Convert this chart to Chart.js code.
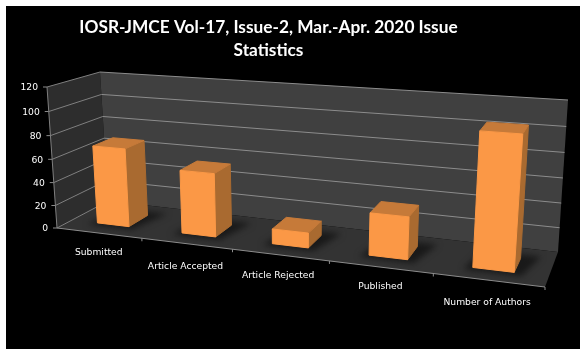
<!DOCTYPE html>
<html><head><meta charset="utf-8">
<style>html,body{margin:0;padding:0;background:#fff}canvas{display:block}</style>
<script src="https://cdn.jsdelivr.net/npm/chart.js@4"></script></head>
<body><div style="width:585px;height:353px"><canvas id="c" width="585" height="353"></canvas></div>
<script>
const categories = ['Submitted','Article Accepted','Article Rejected','Published','Number of Authors'];
const values = [68, 54, 12.5, 34.5, 104.5];
const titleLines = ['IOSR-JMCE Vol-17, Issue-2, Mar.-Apr. 2020 Issue','Statistics'];

// box corners of the 3D frame on the page
const FLB=[57,228],FLT=[47,87],BLB=[108,201],BLT=[100,72],BRB=[558,252],BRT=[568,100],FRB=[545,287],FRT=[557,121];
const labelNudgeX=[0,-1,-2,0,-1], labelNudgeY=[20,23,21,20,22];
const warpU=u=>u/(1.187-0.187*u), warpV=v=>v/(1.053-0.053*v);
const lerp=(a,b,t)=>a+(b-a)*t;
function P(u,v,w){
  const s=warpU(u),t=warpV(v),o=[];
  for(let i=0;i<2;i++){
    const fb=lerp(FLB[i],FRB[i],s),ft=lerp(FLT[i],FRT[i],s),bb=lerp(BLB[i],BRB[i],s),bt=lerp(BLT[i],BRT[i],s);
    o.push(lerp(lerp(fb,ft,t),lerp(bb,bt,t),w));
  }
  return o;
}
function poly(ctx,pts,fill,stroke){
  ctx.beginPath();pts.forEach((p,i)=>i?ctx.lineTo(p[0],p[1]):ctx.moveTo(p[0],p[1]));ctx.closePath();
  if(fill){ctx.fillStyle=fill;ctx.fill();}
  if(stroke){ctx.strokeStyle=stroke;ctx.lineWidth=1;ctx.lineJoin='round';ctx.stroke();}
}
function line(ctx,a,b,c,lw){ctx.beginPath();ctx.moveTo(a[0],a[1]);ctx.lineTo(b[0],b[1]);ctx.strokeStyle=c;ctx.lineWidth=lw||1;ctx.stroke();}

const WD0=0.3,WD1=0.7;
const plugin3d={
  id:'plugin3d',
  beforeDraw(chart){
    const c=chart.ctx;c.save();c.fillStyle='#000';c.fillRect(6,6,574,343);c.restore();
  },
  beforeDatasetsDraw(chart){
    const c=chart.ctx,{x,y}=chart.scales,a=chart.chartArea;
    const vOf=val=>(a.bottom-y.getPixelForValue(val))/a.height;
    c.save();
    poly(c,[P(0,0,0),P(0,1,0),P(0,1,1),P(0,0,1)],'#2d2d2d');
    poly(c,[P(0,0,1),P(0,1,1),P(1,1,1),P(1,0,1)],'#404040');
    poly(c,[P(0,0,0),P(0,0,1),P(1,0,1),P(1,0,0)],'#333333');
    y.ticks.forEach(t=>{
      const v=vOf(t.value),p=P(0,v,0);
      line(c,[p[0]-4,p[1]],p,'#8c8c8c');
      line(c,p,P(0,v,1),'#7f7f7f');
      if(v>0) line(c,P(0,v,1),P(1,v,1),'#8c8c8c');
    });
    line(c,P(0,0,0),P(0,1,0),'#7f7f7f');
    line(c,P(0,0,0),P(1,0,0),'#8c8c8c');
    for(let i=1;i<=categories.length;i++){const p=P(i/categories.length,0,0);line(c,p,[p[0],p[1]+3],'#8c8c8c');}
    c.restore();
  },
  beforeDatasetDraw(chart,args){
    const c=chart.ctx,a=chart.chartArea;
    const bars=args.meta.data.map(el=>{
      const {x,y,width}=el.getProps(['x','y','width'],true);
      return {u0:(x-width/2-a.left)/a.width,u1:(x+width/2-a.left)/a.width,v:(a.bottom-y)/a.height};
    });
    c.save();
    bars.forEach(b=>{
      c.save();c.filter='blur(3px)';
      poly(c,[P(b.u0-0.015,0,WD0-0.08),P(b.u1+0.015,0,WD0-0.08),P(b.u1+0.035,0,WD1+0.12),P(b.u0,0,WD1+0.12)],'#191919');
      c.restore();
    });
    bars.forEach(b=>{
      poly(c,[P(b.u1,0,WD0),P(b.u1,b.v,WD0),P(b.u1,b.v,WD1),P(b.u1,0,WD1)],'#a96a30','#a96a30');
      poly(c,[P(b.u0,b.v,WD0),P(b.u1,b.v,WD0),P(b.u1,b.v,WD1),P(b.u0,b.v,WD1)],'#c67a39','#c67a39');
      poly(c,[P(b.u0,0,WD0),P(b.u1,0,WD0),P(b.u1,b.v,WD0),P(b.u0,b.v,WD0)],'#fb9846','#fb9846');
    });
    c.restore();
    return false;
  },
  afterDatasetsDraw(chart){
    const c=chart.ctx,{x,y}=chart.scales,a=chart.chartArea;
    c.save();c.fillStyle='#fff';c.font='9.2px "DejaVu Sans"';c.textBaseline='middle';
    c.textAlign='right';
    y.ticks.forEach(t=>{
      const p=P(0,(a.bottom-y.getPixelForValue(t.value))/a.height,0);
      c.fillText(String(t.value),p[0]-9,p[1]+1);
    });
    c.textAlign='center';
    categories.forEach((lab,i)=>{
      const p=P((x.getPixelForValue(i)-a.left)/a.width,0,0);
      c.fillText(lab,p[0]+labelNudgeX[i],p[1]+labelNudgeY[i]);
    });
    c.restore();
  }
};
new Chart(document.getElementById('c'),{
  type:'bar',
  data:{labels:categories,datasets:[{label:'Issue Statistics',data:values,backgroundColor:'#fb9846',barPercentage:0.38,categoryPercentage:1}]},
  options:{
    responsive:false,animation:false,
    layout:{padding:{left:0,right:48,top:15,bottom:20}},
    plugins:{legend:{display:false},tooltip:{enabled:false},
      title:{display:true,text:titleLines,color:'#fff',font:{family:'Lato',size:17.3,weight:'bold',lineHeight:1.38},padding:{top:0,bottom:10}}},
    scales:{
      x:{display:false,type:'category',offset:true},
      y:{display:false,type:'linear',min:0,max:120,ticks:{stepSize:20}}
    }
  },
  plugins:[plugin3d]
});
</script></body></html>
